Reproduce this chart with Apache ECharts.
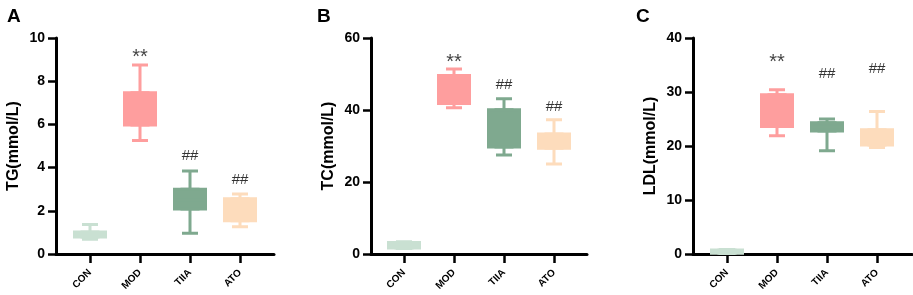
<!DOCTYPE html>
<html>
<head>
<meta charset="utf-8">
<script src="https://cdn.jsdelivr.net/npm/echarts@6/dist/echarts.min.js"></script>
<style>
html, body { margin: 0; padding: 0; background: #fff; }
#main { width: 913px; height: 295px; }
</style>
</head>
<body>
<div id="main"></div>
<script>
var categories = ['CON', 'MOD', 'TIIA', 'ATO'];
var groupColors = ['#c9e0d2', '#fe9e9e', '#7fa98f', '#fddcbc'];

// [min, Q1, median, Q3, max]
var tgStats = [[0.68, 0.79, 0.9, 1.02, 1.37], [5.25, 5.97, 6.8, 7.47, 8.75], [0.96, 2.08, 2.5, 3.0, 3.84], [1.26, 1.54, 2.0, 2.56, 2.78]];
var tcStats = [[1.5, 1.7, 2.4, 3.2, 3.4], [40.6, 41.8, 45.0, 49.6, 51.4], [27.5, 29.7, 34.3, 40.1, 43.1], [25.0, 29.4, 31.0, 33.3, 37.3]];
var ldlStats = [[0.1, 0.15, 0.4, 0.75, 0.85], [21.9, 23.6, 26.0, 29.5, 30.4], [19.1, 22.8, 23.5, 24.3, 25.0], [19.7, 20.2, 21.0, 23.0, 26.4]];

// significance marks and the value where they sit
var sigMarks = ['', '**', '##', '##'];
var tgMarkAt = [null, 9.12, 4.54, 3.43];
var tcMarkAt = [null, 53.3, 46.9, 40.8];
var ldlMarkAt = [null, 35.5, 33.3, 34.3];

var yTicksTG = [0, 10, 2];   // min, max, step
var yTicksTC = [0, 60, 20];
var yTicksLDL = [0, 40, 10];

var FONT = 'Liberation Sans, Arial, Helvetica, sans-serif';

var panels = [
    { letter: 'A', letterX: 2, name: 'TG(mmol/L)', stats: tgStats, marks: tgMarkAt, ticks: yTicksTG, axisX: 56, axisEnd: 274, plotLeft: 65 },
    { letter: 'B', letterX: 312, name: 'TC(mmol/L)', stats: tcStats, marks: tcMarkAt, ticks: yTicksTC, axisX: 371, axisEnd: 587, plotLeft: 379 },
    { letter: 'C', letterX: 631, name: 'LDL(mmol/L)', stats: ldlStats, marks: ldlMarkAt, ticks: yTicksLDL, axisX: 693, axisEnd: 912, plotLeft: 702 }
];

var grids = [], xAxes = [], yAxes = [], series = [], titles = [];

panels.forEach(function (p) {
    titles.push({
        text: p.letter, left: p.letterX, top: 2,
        textStyle: { fontFamily: FONT, fontSize: 19, fontWeight: 'bold', color: '#000' }
    });

    // frame grid: y axis + full length x line
    var gFrame = grids.length;
    grids.push({ left: p.axisX, top: 38, width: p.axisEnd - p.axisX, height: 216 });
    // plot grid: the four groups
    var gPlot = grids.length;
    grids.push({ left: p.plotLeft, top: 38, width: 200, height: 216 });

    xAxes.push({
        gridIndex: gFrame, type: 'value', min: 0, max: 1,
        axisLine: { show: true, onZero: false, lineStyle: { color: '#000', width: 3 } },
        axisTick: { show: false }, axisLabel: { show: false }, splitLine: { show: false }
    });
    yAxes.push({
        gridIndex: gFrame, type: 'value', min: p.ticks[0], max: p.ticks[1], interval: p.ticks[2],
        name: p.name, nameLocation: 'middle', nameGap: 34,
        nameTextStyle: { fontFamily: FONT, fontSize: 16, fontWeight: 'bold', color: '#000' },
        axisLine: { show: true, lineStyle: { color: '#000', width: 3 } },
        axisTick: { show: true, length: 8, lineStyle: { color: '#000', width: 2.5 } },
        axisLabel: { fontFamily: FONT, fontSize: 14, fontWeight: 'bold', color: '#000', margin: 11 },
        splitLine: { show: false }
    });

    var xBox = xAxes.length;
    xAxes.push({
        gridIndex: gPlot, type: 'category', data: categories, position: 'bottom',
        axisLine: { show: false },
        axisTick: { show: true, alignWithLabel: true, length: 9, lineStyle: { color: '#000', width: 2.5 } },
        axisLabel: { rotate: 45, fontFamily: FONT, fontSize: 10, fontWeight: 'bold', color: '#000', margin: 17 }
    });
    var xWhisk = xAxes.length;
    xAxes.push({ gridIndex: gPlot, type: 'category', data: categories, show: false });
    var yPlot = yAxes.length;
    yAxes.push({ gridIndex: gPlot, type: 'value', min: p.ticks[0], max: p.ticks[1], show: false });

    // whiskers with narrow caps
    series.push({
        type: 'boxplot', xAxisIndex: xWhisk, yAxisIndex: yPlot,
        boxWidth: [16, 16], silent: true,
        data: p.stats.map(function (s, i) {
            return { value: s, itemStyle: { color: groupColors[i], borderColor: groupColors[i], borderWidth: 3 } };
        })
    });
    // wide boxes (Q1..Q3)
    series.push({
        type: 'boxplot', xAxisIndex: xBox, yAxisIndex: yPlot,
        boxWidth: [31, 31], silent: true,
        data: p.stats.map(function (s, i) {
            return { value: [s[1], s[1], s[2], s[3], s[3]], itemStyle: { color: groupColors[i], borderColor: groupColors[i], borderWidth: 3 } };
        })
    });
    // significance marks
    series.push({
        type: 'scatter', xAxisIndex: xBox, yAxisIndex: yPlot,
        symbolSize: 1, itemStyle: { color: 'rgba(0,0,0,0)' }, silent: true,
        label: {
            show: true, position: 'inside',
            formatter: function (d) {
                var m = sigMarks[d.dataIndex];
                return m === '**' ? '{s|' + m + '}' : '{h|' + m + '}';
            },
            rich: {
                s: { fontFamily: FONT, fontSize: 20, color: '#111' },
                h: { fontFamily: FONT, fontSize: 15, color: '#000' }
            }
        },
        data: p.marks.map(function (v, i) { return [categories[i], v]; })
    });
});

var chart = echarts.init(document.getElementById('main'), null, { renderer: 'canvas' });
chart.setOption({
    backgroundColor: '#fff',
    animation: false,
    title: titles,
    grid: grids,
    xAxis: xAxes,
    yAxis: yAxes,
    series: series
});
</script>
</body>
</html>
